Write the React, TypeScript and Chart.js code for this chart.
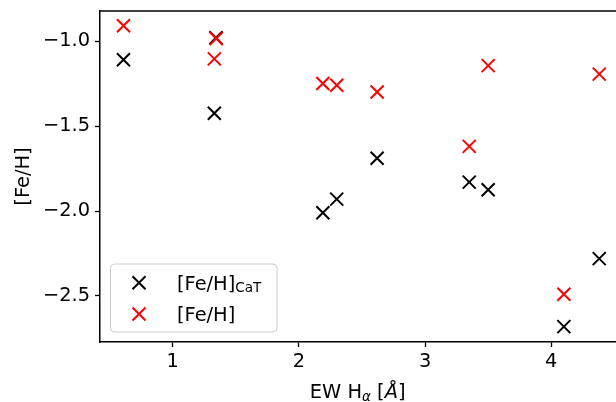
import { useEffect, useRef } from 'react';
import { Chart, registerables } from 'chart.js';

Chart.register(...registerables);

// EW Hα [Å] and metallicities
const ewCaT = [0.61, 1.343, 1.33, 2.19, 2.30, 2.62, 3.35, 3.50, 4.10, 4.38];
const feHCaT = [-1.11, -0.981, -1.425, -2.01, -1.93, -1.69, -1.83, -1.875, -2.68, -2.28];
const ewFeH = [0.61, 1.345, 1.33, 2.19, 2.30, 2.62, 3.35, 3.50, 4.10, 4.38];
const feH = [-0.91, -0.985, -1.105, -1.25, -1.26, -1.30, -1.62, -1.145, -2.49, -1.195];

const xTicks = [1, 2, 3, 4];
const yTicks = [-1.0, -1.5, -2.0, -2.5];

const FONT = '"DejaVu Sans"';
const FS = 19.4;

function drawX(ctx: CanvasRenderingContext2D, x: number, y: number, h: number, color: string) {
  ctx.save();
  ctx.strokeStyle = color;
  ctx.lineWidth = 2;
  ctx.beginPath();
  ctx.moveTo(x - h, y - h);
  ctx.lineTo(x + h, y + h);
  ctx.moveTo(x - h, y + h);
  ctx.lineTo(x + h, y - h);
  ctx.stroke();
  ctx.restore();
}

const zeroPad = (s: any) => {
  s.paddingTop = 0;
  s.paddingBottom = 0;
  s.paddingLeft = 0;
  s.paddingRight = 0;
};

const decorPlugin = {
  id: 'decor',
  afterDraw(chart: any) {
    const ctx: CanvasRenderingContext2D = chart.ctx;
    const a = chart.chartArea;
    ctx.save();
    // top spine
    ctx.strokeStyle = '#000';
    ctx.lineWidth = 1.5;
    ctx.beginPath();
    ctx.moveTo(a.left - 0.75, a.top);
    ctx.lineTo(a.right + 2, a.top);
    ctx.stroke();

    // legend
    const bx = 110.5, by = 264, bw = 166.5, bh = 68;
    ctx.beginPath();
    (ctx as any).roundRect(bx, by, bw, bh, 4);
    ctx.fillStyle = 'rgba(255,255,255,0.8)';
    ctx.fill();
    ctx.strokeStyle = '#cccccc';
    ctx.lineWidth = 1;
    ctx.stroke();
    drawX(ctx, 139, 282.7, 6.5, '#000000');
    drawX(ctx, 139, 314, 6.5, '#ff0000');
    ctx.fillStyle = '#000';
    ctx.textAlign = 'left';
    ctx.textBaseline = 'alphabetic';
    ctx.font = `${FS}px ${FONT}`;
    ctx.fillText('[Fe/H]', 177, 289.5);
    const w1 = ctx.measureText('[Fe/H]').width;
    ctx.font = `${FS * 0.7}px ${FONT}`;
    ctx.fillText('CaT', 177 + w1, 292);
    ctx.font = `${FS}px ${FONT}`;
    ctx.fillText('[Fe/H]', 177, 321);

    // x title: EW H_α [Å]
    const base = 398.3;
    let x = 309.8;
    ctx.font = `${FS}px ${FONT}`;
    ctx.fillText('EW H', x, base);
    x += ctx.measureText('EW H').width;
    ctx.font = `oblique ${FS * 0.7}px ${FONT}`;
    ctx.fillText('α', x, base + 2.5);
    x += ctx.measureText('α').width;
    ctx.font = `${FS}px ${FONT}`;
    ctx.fillText(' [', x, base);
    x += ctx.measureText(' [').width;
    ctx.font = `oblique ${FS}px ${FONT}`;
    ctx.fillText('Å', x, base);
    x += ctx.measureText('Å').width;
    ctx.font = `${FS}px ${FONT}`;
    ctx.fillText(']', x, base);

    // y title
    ctx.translate(29, (a.top + a.bottom) / 2);
    ctx.rotate(-Math.PI / 2);
    ctx.textAlign = 'center';
    ctx.fillText('[Fe/H]', 0, 0);
    ctx.restore();
  },
};

export default function App() {
  const ref = useRef<HTMLCanvasElement>(null);
  useEffect(() => {
    const tickFont = { family: FONT, size: FS };
    const chart = new Chart(ref.current!, {
      type: 'scatter',
      data: {
        datasets: [
          {
            label: '[Fe/H]CaT',
            data: ewCaT.map((x, i) => ({ x, y: feHCaT[i] })),
            pointStyle: 'crossRot',
            pointRadius: 9.2,
            borderColor: '#000000',
            backgroundColor: '#000000',
            pointBorderWidth: 2,
            order: 2,
          },
          {
            label: '[Fe/H]',
            data: ewFeH.map((x, i) => ({ x, y: feH[i] })),
            pointStyle: 'crossRot',
            pointRadius: 9.2,
            borderColor: '#ff0000',
            backgroundColor: '#ff0000',
            pointBorderWidth: 2,
            order: 1,
          },
        ],
      },
      options: {
        animation: false,
        responsive: false,
        maintainAspectRatio: false,
        events: [],
        layout: { autoPadding: false, padding: { top: 11, right: 0, left: 0, bottom: 0 } },
        plugins: { legend: { display: false }, tooltip: { enabled: false } },
        scales: {
          x: {
            type: 'linear',
            min: 0.424,
            max: 4.513,
            afterBuildTicks: (s: any) => {
              s.ticks = xTicks.map((v) => ({ value: v }));
            },
            afterFit: (s: any) => {
              s.height = 60;
              zeroPad(s);
            },
            ticks: {
              font: tickFont,
              color: '#000',
              padding: 3,
              maxRotation: 0,
              callback: (v: any) => String(v),
            },
            grid: {
              display: true,
              drawOnChartArea: false,
              drawTicks: true,
              tickLength: 5,
              tickWidth: 1.3,
              tickColor: '#000',
            },
            border: { display: true, color: '#000', width: 1.5 },
          },
          y: {
            type: 'linear',
            min: -2.7706,
            max: -0.8235,
            afterBuildTicks: (s: any) => {
              s.ticks = yTicks.map((v) => ({ value: v }));
            },
            afterFit: (s: any) => {
              s.width = 100;
              zeroPad(s);
            },
            ticks: {
              font: tickFont,
              color: '#000',
              padding: 5,
              callback: (v: any) => (v < 0 ? '\u2212' : '') + Math.abs(Number(v)).toFixed(1),
            },
            grid: {
              display: true,
              drawOnChartArea: false,
              drawTicks: true,
              tickLength: 5,
              tickWidth: 1.3,
              tickColor: '#000',
            },
            border: { display: true, color: '#000', width: 1.5 },
          },
        },
      } as any,
      plugins: [decorPlugin],
    });
    return () => chart.destroy();
  }, []);
  return (
    <div style={{ position: 'fixed', left: 0, top: 0, width: 616, height: 402, background: '#fff' }}>
      <canvas ref={ref} width={616} height={402} style={{ display: 'block' }} />
    </div>
  );
}
